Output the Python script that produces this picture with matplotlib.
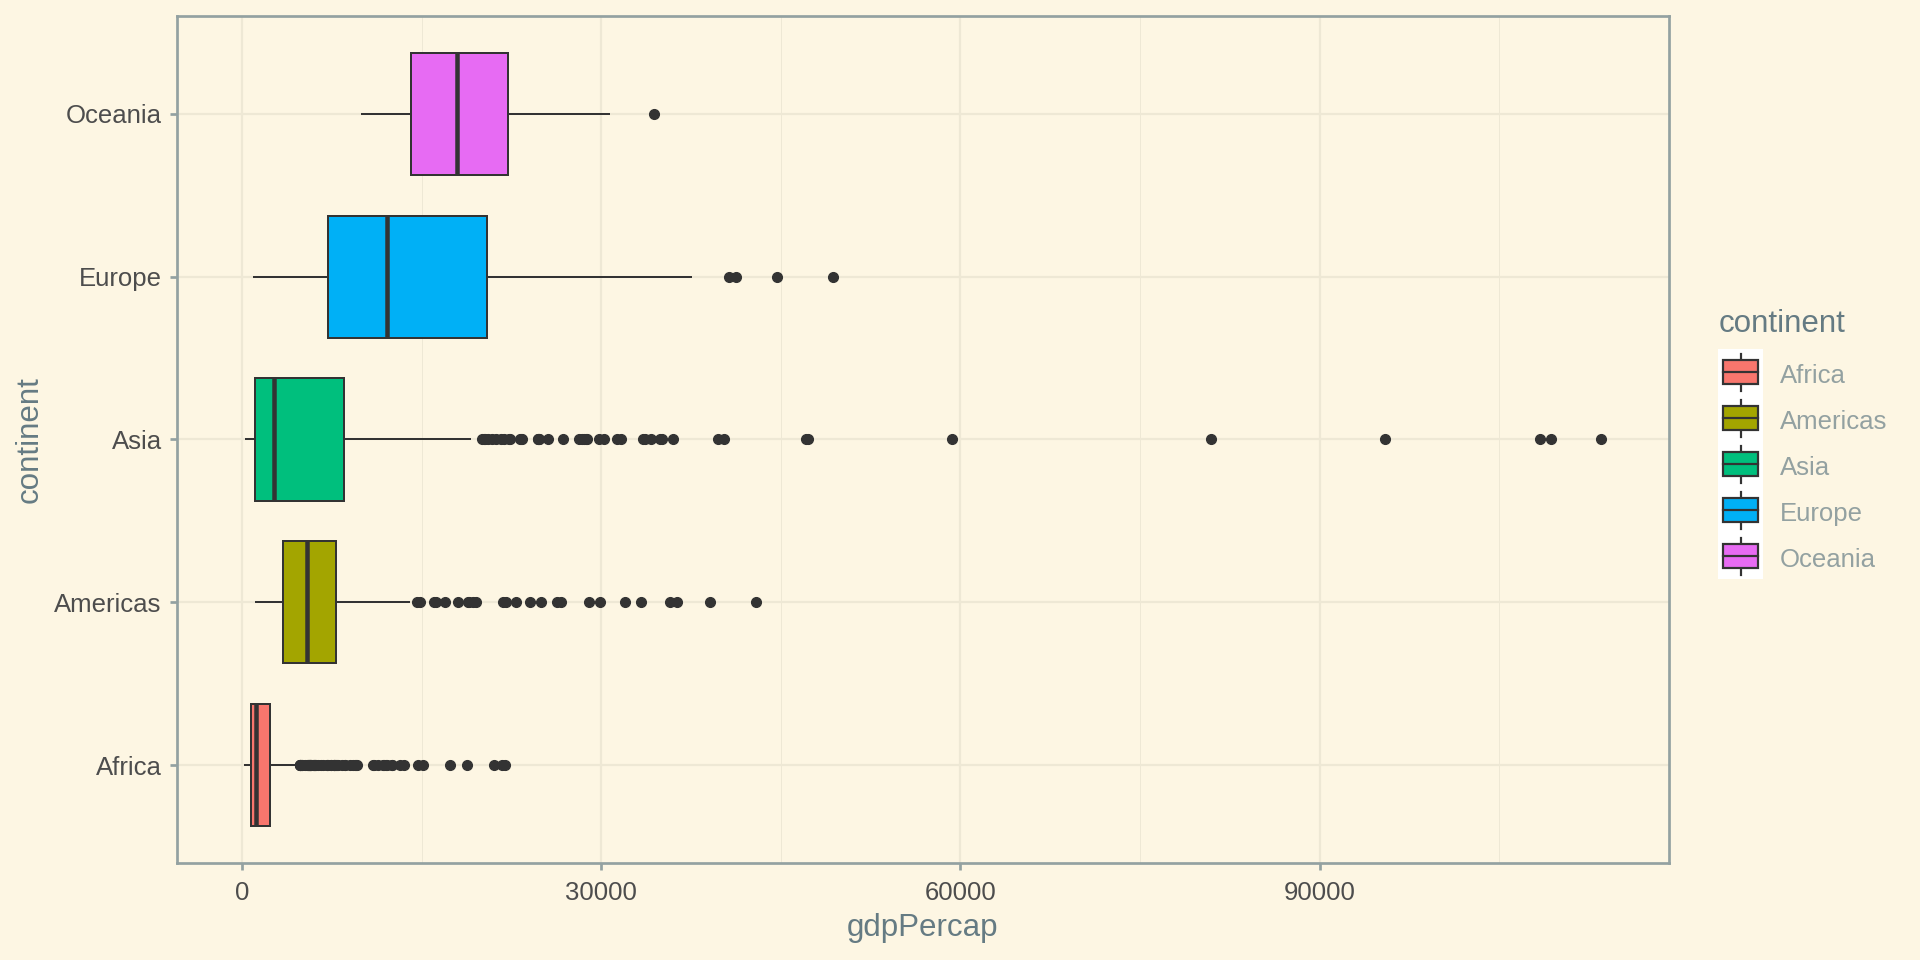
import matplotlib
matplotlib.use("Agg")
import matplotlib.pyplot as plt
from matplotlib.patches import Rectangle
from matplotlib.lines import Line2D

# ---------------- data ----------------
categories = ["Africa", "Americas", "Asia", "Europe", "Oceania"]
colors = ["#F8766D", "#A3A500", "#00BF7D", "#00B0F6", "#E76BF3"]

q1 = [761.2, 3427.8, 1057.0, 7213.1, 14141.9]
median = [1192.1, 5465.5, 2646.8, 12081.7, 17983.3]
q3 = [2377.4, 7830.2, 8549.3, 20461.4, 22214.1]
whisker_low = [241.2, 1201.6, 331.0, 973.5, 10039.6]
whisker_high = [4797.0, 13990.0, 19036.0, 37506.0, 30687.8]

outliers_africa = [4810, 4860, 4877, 4879, 4910, 4977, 5023, 5288, 5473, 5487,
                   5523, 5581, 5598, 5681, 5682, 5723, 5745, 5768, 5919, 6018,
                   6058, 6071, 6101, 6223, 6316, 6631, 6757, 7093, 7114, 7225,
                   7425, 7479, 7670, 7703, 7711, 7765, 7826, 7954, 8028, 8358,
                   8568, 8647, 9021, 9270, 9467, 9535, 9640, 10957, 11004, 11401,
                   11770, 11864, 12057, 12154, 12522, 12570, 13206, 13522, 14723,
                   15113, 17364, 18773, 21011, 21746, 21951]
outliers_americas = [14641, 14847, 16077, 16173, 16999, 18009, 18856, 18971, 19329,
                     19530, 21806, 22091, 22899, 24073, 25010, 26343, 26627, 28955,
                     29884, 32004, 33329, 35767, 36319, 39097, 42952]
outliers_asia = [108382, 113523, 95458, 80895, 109348, 59265, 31354, 28118, 34933,
                 40301, 35110, 47307, 24837, 34168, 33693, 21198, 24841, 20586,
                 21655, 24769, 33519, 36023, 47143, 22376, 26825, 28817, 28605,
                 31656, 20038, 24758, 28378, 30209, 39725, 20207, 23235, 28718,
                 23404, 29796, 20292, 25523, 21906, 20897, 23348, 22316]
outliers_europe = [40676, 41283, 44684, 49357]
outliers_oceania = [34435]
outliers = [outliers_africa, outliers_americas, outliers_asia,
            outliers_europe, outliers_oceania]

x_major_ticks = [0, 30000, 60000, 90000]
x_minor_ticks = [15000, 45000, 75000, 105000]

# ---------------- style ----------------
BG = "#FDF6E3"
GRID = "#EEE8D5"
BORDER = "#93A1A1"
TITLE_C = "#657B83"
LABEL_C = "#93A1A1"
AXTEXT_C = "#4D4D4D"
LINE_C = "#333333"
FONT = ["Liberation Sans", "DejaVu Sans"]
plt.rcParams["font.family"] = FONT

W, H = 1920, 960
fig = plt.figure(figsize=(W / 100, H / 100), dpi=100, facecolor=BG)

L, R, T, B = 177, 1669, 16, 863
ax = fig.add_axes([L / W, 1 - B / H, (R - L) / W, (B - T) / H])
ax.set_facecolor(BG)

px = 0.72  # points per pixel at dpi 100

stats = []
for i, c in enumerate(categories):
    stats.append(dict(label=c, q1=q1[i], med=median[i], q3=q3[i],
                      whislo=whisker_low[i], whishi=whisker_high[i],
                      fliers=outliers[i]))

positions = list(range(1, len(categories) + 1))
bp = ax.bxp(stats, positions=positions, widths=0.75, orientation="horizontal",
            patch_artist=True, showcaps=False,
            boxprops=dict(edgecolor=LINE_C, linewidth=2 * px),
            medianprops=dict(color=LINE_C, linewidth=4.5 * px, solid_capstyle="butt"),
            whiskerprops=dict(color=LINE_C, linewidth=2 * px),
            flierprops=dict(marker="o", markerfacecolor=LINE_C, markeredgecolor=LINE_C,
                            markersize=7, linestyle="none"),
            zorder=3)
for patch, col in zip(bp["boxes"], colors):
    patch.set_facecolor(col)

xmin = min(whisker_low)
xmax = max(max(o) for o in outliers)
span = xmax - xmin
ax.set_xlim(xmin - 0.05 * span, xmax + 0.05 * span)
ax.set_ylim(0.4, 5.6)

ax.set_xticks(x_major_ticks)
ax.set_xticklabels([str(v) for v in x_major_ticks])
ax.set_xticks(x_minor_ticks, minor=True)
ax.set_yticks(positions)
ax.set_yticklabels(categories)

ax.grid(True, which="major", color=GRID, linewidth=2.2 * px, zorder=0)
ax.grid(True, which="minor", axis="x", color=GRID, linewidth=1.0 * px, zorder=0)
ax.set_axisbelow(True)

for s in ax.spines.values():
    s.set_color(BORDER)
    s.set_linewidth(2.7 * px)

ax.tick_params(which="major", length=7 * px, width=2.7 * px, color=BORDER,
               labelsize=18.5, labelcolor=AXTEXT_C)
ax.tick_params(axis="y", pad=6)
ax.tick_params(axis="x", pad=8)
ax.tick_params(which="minor", length=0)

ax.set_xlabel("gdpPercap", fontsize=22.5, color=TITLE_C, labelpad=6)
ax.set_ylabel("continent", fontsize=22.5, color=TITLE_C, labelpad=7)

# ---------------- legend (drawn in pixel coordinates) ----------------
lg = fig.add_axes([0, 0, 1, 1], facecolor="none")
lg.set_xlim(0, W)
lg.set_ylim(H, 0)
lg.axis("off")

key_x0, key_x1 = 1718, 1763
key_top, key_h = 349, 46
lg.add_patch(Rectangle((key_x0, key_top), key_x1 - key_x0, key_h * len(categories),
                       facecolor="white", edgecolor="none"))
lg.text(1719, 332, "continent", fontsize=22.5, color=TITLE_C, va="baseline", ha="left")
cx = (key_x0 + key_x1) / 2
for i, (c, col) in enumerate(zip(categories, colors)):
    cy = key_top + key_h * i + key_h / 2
    lg.add_line(Line2D([cx, cx], [cy - 18.5, cy + 18.5], color=LINE_C, lw=2.2 * px))
    lg.add_patch(Rectangle((1722.7, cy - 12), 35.3, 24, facecolor=col,
                           edgecolor=LINE_C, linewidth=2.2 * px, zorder=3))
    lg.add_line(Line2D([1722.7, 1758], [cy, cy], color=LINE_C, lw=2.2 * px, zorder=4))
    lg.text(1780, cy + 11, c, fontsize=18.5, color=LABEL_C, va="baseline", ha="left")

fig.savefig("out.png", dpi=100, facecolor=BG)
